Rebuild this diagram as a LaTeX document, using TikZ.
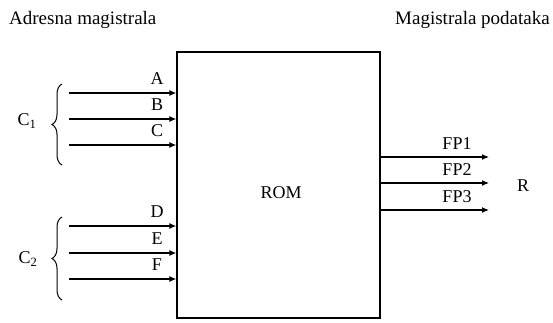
\documentclass[tikz,border=0pt]{standalone}
\usepackage{fontspec}
\setmainfont{Liberation Serif}
\usetikzlibrary{arrows.meta,decorations.pathreplacing}
\begin{document}
\begin{tikzpicture}[x=1pt,y=-1pt,
  wire/.style={line width=1.2pt,-{Latex[length=7pt,width=6pt]}},
  lbl/.style={font=\fontsize{18}{18}\selectfont,inner sep=0pt},
  ttl/.style={font=\fontsize{19}{19}\selectfont,inner sep=0pt},
  brc/.style={line width=1pt,decorate,decoration={brace,amplitude=10pt}}]
\useasboundingbox (0,0) rectangle (553,322);
\node[draw,line width=1.3pt,minimum width=203pt,minimum height=266pt,inner sep=0pt] (rom) at (278.5,185) {};
\node[lbl] (romt) at (281,193) {ROM};
\node[ttl,anchor=base west] (t1) at (9,24) {Adresna magistrala};
\node[ttl,anchor=base east] (t2) at (550,24) {Magistrala podataka};
% inputs
\foreach \n/\y/\t in {a/93/A,b/119/B,c/145/C,d/226/D,e/253/E,f/279/F}{
  \coordinate (s\n) at (69,\y);
  \coordinate (e\n) at (rom.west |- 0,\y);
  \draw[wire] (s\n) -- (e\n);
  \node[lbl] (l\n) at (157,\y-14) {\t};
}
% outputs
\foreach \n/\y/\t in {1/157/FP1,2/183/FP2,3/210/FP3}{
  \coordinate (o\n) at (rom.east |- 0,\y);
  \coordinate (p\n) at (489,\y);
  \draw[wire] (o\n) -- (p\n);
  \node[lbl] (q\n) at (457,\y-13) {\t};
}
\node[lbl] (r) at (523,186) {R};
% braces
\coordinate (b1t) at (62,84); \coordinate (b1b) at (62,165);
\coordinate (b2t) at (62,217); \coordinate (b2b) at (62,300);
\draw[brc] (b1b) -- (b1t);
\draw[brc] (b2b) -- (b2t);
\node[lbl] (c1) at (27,121) {C\textsubscript{1}};
\node[lbl] (c2) at (28,259) {C\textsubscript{2}};
\end{tikzpicture}
\end{document}
